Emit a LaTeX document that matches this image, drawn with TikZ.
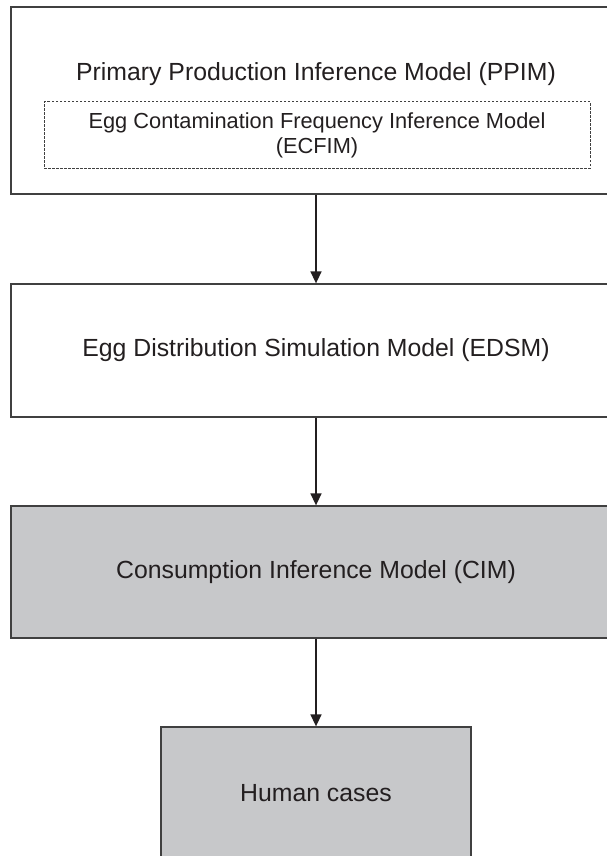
\documentclass[tikz,border=0pt]{standalone}
\usepackage{fontspec}
\setmainfont{Liberation Sans}
\usetikzlibrary{arrows.meta}
\definecolor{edge}{HTML}{404040}
\definecolor{boxgray}{HTML}{C7C8CA}
\definecolor{ink}{HTML}{231F20}
\tikzset{
  modelbox/.style={draw=edge, line width=1.3pt, minimum width=610pt, inner sep=0pt, text=ink,
    font=\fontsize{24.8}{29}\selectfont},
  innerbox/.style={draw=edge, dashed, dash pattern=on 2.5pt off 1.5pt, line width=1pt,
    minimum width=546pt, minimum height=66pt, inner sep=0pt, align=center, text=ink,
    font=\fontsize{21.8}{25}\selectfont},
  grayfill/.style={fill=boxgray},
  titletext/.style={text=ink, inner sep=0pt, font=\fontsize{24.8}{29}\selectfont},
  flow/.style={draw=ink, line width=1.5pt, -{Triangle[length=12pt,width=11pt]}}
}
\begin{document}
\begin{tikzpicture}[x=1pt,y=-1pt]
\useasboundingbox (0,0) rectangle (607,856);
\clip (0,0) rectangle (607,856);
\node[modelbox, minimum height=187pt] (ppim) at (316,100.5) {};
\node[titletext] (ppimtitle) at (316,74) {Primary Production Inference Model (PPIM)};
\node[innerbox] (ecfim) at (317,135) {Egg Contamination Frequency Inference Model\\(ECFIM)};
\node[modelbox, minimum height=133pt] (edsm) at (316,350.5) {Egg Distribution Simulation Model (EDSM)};
\node[modelbox, grayfill, minimum height=132pt] (cim) at (316,572) {Consumption Inference Model (CIM)};
\node[modelbox, grayfill, minimum width=310pt, minimum height=132pt] (human) at (316,793) {Human cases};
\draw[flow] (ppim) -- (edsm);
\draw[flow] (edsm) -- (cim);
\draw[flow] (cim) -- (human);
\end{tikzpicture}
\end{document}
